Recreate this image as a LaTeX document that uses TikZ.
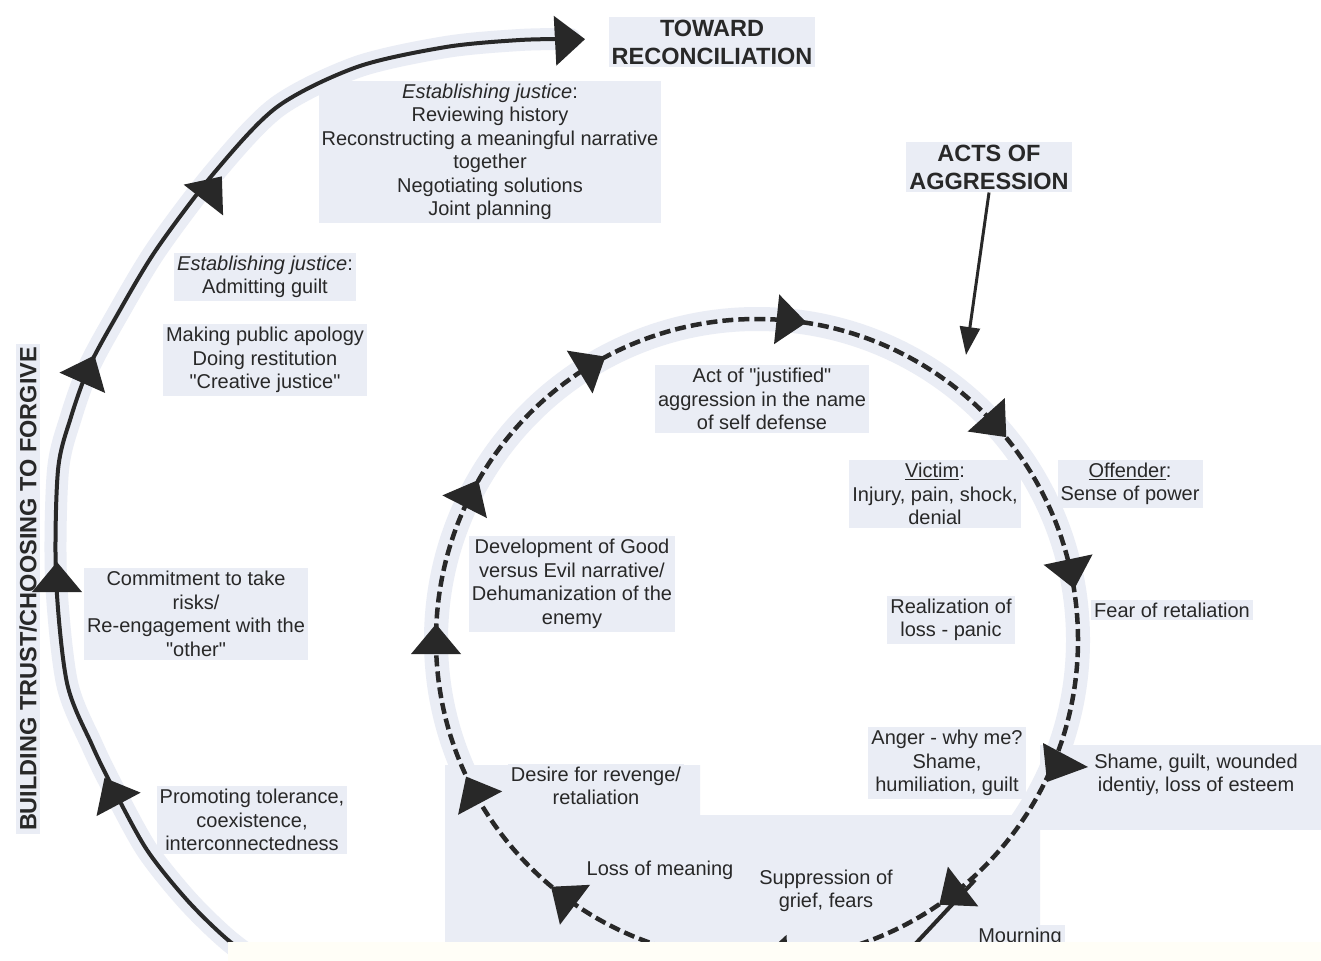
\documentclass[tikz,border=0pt]{standalone}
\usepackage{fontspec}
\setmainfont{Liberation Sans}[Ligatures=TeXOff]
\usetikzlibrary{arrows.meta}
\definecolor{ink}{RGB}{40,40,40}
\definecolor{pale}{RGB}{234,237,245}
\definecolor{band}{RGB}{255,254,247}
\tikzset{
  lbl/.style={font=\fontsize{20}{23.5}\selectfont, align=center, text=ink, fill=pale, inner sep=3pt},
  ttl/.style={font=\fontsize{23.5}{28}\selectfont\bfseries, align=center, text=ink, fill=pale, inner sep=3pt},
  outerline/.style={draw=ink, line width=4pt},
  dashline/.style={draw=ink, line width=4.5pt, dash pattern=on 11pt off 5pt},
  halo/.style={draw=pale, line width=22pt, line cap=round},
  ahead/.style={fill=ink},
}
\newcommand{\arrowhd}[3]{\fill[ahead,shift={(#1,#2)},rotate=#3] (16,0) -- (-14,25) -- (-14,-25) -- cycle;}
\newcommand{\cycarrow}[1]{\fill[ahead,shift={({757+321*cos(#1)},{640+321*sin(#1)})},rotate={-90-(#1)}] (16,0) -- (-14,25) -- (-14,-25) -- cycle;}
\begin{document}
\begin{tikzpicture}[x=1pt,y=-1pt]
\useasboundingbox (0,0) rectangle (1321,960);
\fill[white] (0,0) rectangle (1321,960);
% pale scan regions
\fill[pale] (445,765) -- (700,765) -- (700,815) -- (1040,815) -- (1040,942) -- (445,942) -- cycle;
\fill[pale] (1040,745) rectangle (1321,830);
% halos
\draw[halo] plot[smooth] coordinates {(275,975) (228,940) (187,900) (147,850) (114,790) (92,745) (67,683) (56,577) (58,470) (71,417) (89,367) (116,317) (156,250) (214,173) (277,107) (357,67) (446,47) (520,40) (570,39)};
\draw[halo, line width=24pt] (757,640) circle[radius=321pt];
\draw[halo] (975,880) -- (905,955);

% text
\node[ttl] (toward) at (712,42) {TOWARD\\RECONCILIATION};
\node[ttl] (acts) at (989,167) {ACTS OF\\AGGRESSION};
\node[ttl, rotate=90] (build) at (28,589) {BUILDING TRUST/CHOOSING TO FORGIVE};
\node[lbl] (ej1) at (490,152) {\textit{Establishing justice}:\\Reviewing history\\Reconstructing a meaningful narrative\\together\\Negotiating solutions\\Joint planning};
\node[lbl] (ej2) at (265,277) {\textit{Establishing justice}:\\Admitting guilt};
\node[lbl] (apol) at (265,360) {Making public apology\\Doing restitution\\"Creative justice"};
\node[lbl] (commit) at (196,614) {Commitment to take\\risks/\\Re-engagement with the\\"other"};
\node[lbl] (promote) at (252,820) {Promoting tolerance,\\coexistence,\\interconnectedness};
\node[lbl] (dev) at (572,584) {Development of Good\\versus Evil narrative/\\Dehumanization of the\\enemy};
\node[lbl] (act) at (762,399) {Act of "justified"\\aggression in the name\\of self defense};
\node[lbl] (victim) at (935,494) {\underline{Victim}:\\Injury, pain, shock,\\denial};
\node[lbl] (offender) at (1130,484) {\underline{Offender}:\\Sense of power};
\node[lbl] (fear) at (1172,610) {Fear of retaliation};
\node[lbl] (real) at (951,620) {Realization of\\loss - panic};
\node[lbl] (anger) at (947,763) {Anger - why me?\\Shame,\\humiliation, guilt};
\node[lbl] (shame) at (1196,775) {Shame, guilt, wounded\\identiy, loss of esteem};
\node[lbl] (desire) at (596,786) {Desire for revenge/\\retaliation};
\node[lbl] (loss) at (660,870) {Loss of meaning};
\node[lbl] (supp) at (826,891) {Suppression of\\grief, fears};
\node[lbl] (mourn) at (1020,937) {Mourning};

% outer solid spiral
\draw[outerline] plot[smooth] coordinates {(275,975) (228,940) (187,900) (147,850) (114,790) (92,745) (67,683) (56,577) (58,470) (71,417) (89,367) (116,317) (156,250) (214,173) (277,107) (357,67) (446,47) (520,40) (570,39)};
\arrowhd{569}{40}{3}
\arrowhd{212}{189}{52}
\arrowhd{88}{370}{66}
\arrowhd{57}{578}{90}
\arrowhd{112}{792}{118}

% dashed cycle of aggression
\draw[dashline] (757,640) circle[radius=321pt];
\draw[outerline] (975,880) -- (905,955);
\cycarrow{-84}
\cycarrow{-42}
\cycarrow{-12}
\fill[ahead] (1088,767) -- (1043,743) -- (1047,782) -- cycle;
\cycarrow{52.6}
\cycarrow{87}
\cycarrow{127}
\cycarrow{152}
\cycarrow{180}
\cycarrow{207}
\cycarrow{239}

% acts of aggression arrow
\coordinate (aatip) at (966,355);
\draw[ink, line width=3pt, -{Triangle[length=28pt,width=20pt]}] (acts.south) -- (aatip);

% bottom band of the scan
\fill[band] (228,942) rectangle (1340,990);
\end{tikzpicture}
\end{document}
